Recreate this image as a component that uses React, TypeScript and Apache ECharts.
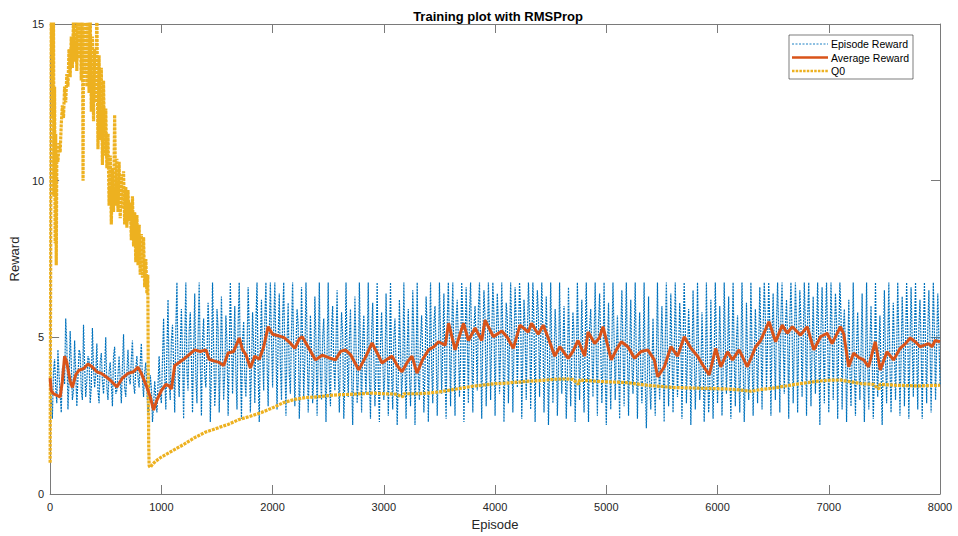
import React, { useEffect, useRef } from "react";
import * as echarts from "echarts";

const title = "Training plot with RMSProp";
const xTicks = [0, 1000, 2000, 3000, 4000, 5000, 6000, 7000, 8000];
const yTicks = [0, 5, 10, 15];
const seriesNames = ["Episode Reward", "Average Reward", "Q0"];

// Episode reward, one value every 20 episodes (0, 20, ..., 8000)
const episodeStep = 20;
const episodeReward = [
  3.6, 2.4, 4.3, 2.9, 3.8, 2.6, 4.1, 5.6, 2.7, 5.2, 3.0, 4.9, 2.8, 4.6, 3.3, 5.4, 3.1, 4.4, 2.9, 5.3,
  3.4, 4.8, 2.9, 4.5, 3.2, 5.0, 3.0, 4.2, 2.8, 4.7, 3.3, 4.4, 2.9, 5.1, 3.1, 4.6, 3.5, 4.9, 3.2, 4.4,
  3.4, 4.8, 3.1, 4.2, 2.5, 3.8, 2.3, 3.6, 2.6, 4.4, 2.9, 5.6, 2.7, 6.2, 3.0, 5.4, 2.6, 6.75, 3.1, 5.9,
  2.4, 6.75, 3.3, 5.8, 2.6, 6.4, 2.9, 6.75, 2.5, 5.6, 3.4, 6.1, 2.3, 6.75, 2.8, 5.9, 2.6, 6.3, 3.0, 5.7,
  2.5, 6.75, 3.2, 6.0, 2.7, 6.75, 2.4, 5.5, 3.1, 6.6, 2.6, 5.8, 2.9, 6.75, 2.3, 6.2, 3.3, 6.75, 2.8, 6.75,
  3.4, 6.75, 2.7, 6.4, 3.0, 6.75, 2.5, 6.1, 3.2, 6.75, 2.8, 5.9, 2.4, 6.6, 3.1, 6.75, 2.6, 5.7, 2.9, 6.3,
  2.5, 6.75, 3.0, 5.6, 2.3, 6.75, 2.8, 6.0, 3.3, 6.5, 2.6, 5.8, 2.4, 6.75, 3.1, 5.9, 2.2, 6.3, 2.9, 6.75,
  2.6, 5.7, 3.2, 6.75, 2.4, 6.1, 2.8, 6.75, 2.3, 5.8, 3.0, 6.4, 2.5, 6.75, 2.7, 5.6, 2.2, 6.2, 3.1, 6.75,
  2.4, 5.9, 2.8, 6.5, 2.2, 6.75, 3.0, 5.7, 2.6, 6.3, 2.3, 6.75, 2.9, 6.0, 2.5, 6.75, 3.2, 6.4, 2.4, 6.75,
  2.8, 6.75, 2.5, 6.2, 3.1, 6.75, 2.3, 6.6, 2.9, 6.75, 2.6, 6.0, 3.3, 6.75, 2.4, 6.5, 2.8, 6.75, 3.0, 6.75,
  2.5, 6.4, 3.2, 6.75, 2.3, 6.1, 2.9, 6.75, 2.6, 6.6, 3.4, 6.75, 2.4, 6.2, 3.0, 6.75, 2.7, 6.75, 2.3, 6.5,
  3.1, 6.75, 2.6, 6.3, 2.2, 6.75, 2.9, 5.9, 2.5, 6.75, 3.2, 6.0, 2.4, 6.6, 2.8, 5.8, 2.3, 6.75, 3.0, 6.2,
  2.6, 6.75, 2.3, 5.9, 3.1, 6.75, 2.5, 6.4, 2.9, 6.75, 2.2, 6.1, 2.7, 6.75, 3.0, 5.7, 2.4, 6.5, 2.8, 6.75,
  2.5, 6.2, 3.2, 6.75, 2.4, 5.8, 2.9, 6.75, 2.1, 6.3, 2.7, 5.6, 2.5, 6.75, 3.0, 6.0, 2.3, 6.75, 2.8, 6.4,
  2.6, 6.75, 3.1, 6.1, 2.4, 6.75, 2.9, 5.9, 2.2, 6.5, 2.7, 6.75, 3.0, 5.8, 2.3, 6.75, 2.6, 6.2, 2.4, 6.75,
  2.9, 6.0, 2.5, 6.75, 3.2, 6.3, 2.4, 6.75, 2.8, 5.7, 2.6, 6.75, 2.3, 6.1, 3.0, 6.75, 2.5, 5.9, 2.9, 6.6,
  2.7, 6.75, 3.3, 6.75, 2.5, 6.4, 3.0, 6.75, 2.6, 6.75, 3.2, 6.2, 2.4, 6.75, 2.9, 6.75, 2.6, 6.5, 3.1, 6.75,
  2.5, 6.75, 2.8, 6.3, 3.2, 6.75, 2.2, 6.6, 2.9, 6.75, 2.6, 6.75, 3.0, 6.4, 2.4, 6.75, 2.7, 5.9, 2.3, 6.2,
  2.8, 6.75, 2.5, 5.8, 3.0, 6.4, 2.3, 6.75, 2.7, 6.0, 2.4, 6.75, 3.1, 5.7, 2.2, 6.5, 2.9, 6.75, 2.6, 6.1,
  3.0, 6.75, 2.5, 6.3, 2.8, 6.75, 2.4, 6.6, 3.1, 6.75, 2.7, 6.2, 2.4, 6.75, 2.9, 6.5, 2.6, 6.75, 3.0, 6.4,
  3.5,
];

// Episode reward at the in-between episodes (10, 30, ..., 7990)
const episodeRewardMid = [
  3.1, 3.9, 3.4, 4.6, 3.2, 4.0, 3.5, 4.8, 3.6, 4.2, 3.3, 3.9, 3.7, 4.5, 3.0, 4.1, 3.6, 4.3, 3.4, 4.0,
  3.8, 3.3, 4.2, 3.6, 4.0, 3.4, 3.9, 3.5, 4.4, 3.2, 3.8, 3.6, 4.1, 3.4, 3.9, 3.7, 4.3, 3.5, 4.0, 3.7,
  4.2, 3.6, 3.9, 3.3, 3.0, 3.4, 2.8, 3.1, 3.5, 3.2, 4.3, 3.8, 4.6, 3.5, 4.9, 4.1, 5.3, 3.9, 4.7, 4.4,
  4.8, 3.9, 5.2, 4.3, 4.6, 3.7, 5.0, 4.2, 4.9, 3.8, 4.4, 5.1, 4.0, 4.7, 3.6, 5.3, 4.1, 4.5, 3.9, 4.8,
  4.2, 5.0, 4.6, 3.8, 5.4, 4.3, 4.9, 3.7, 4.5, 5.2, 4.0, 4.7, 5.5, 3.9, 4.8, 4.4, 5.6, 4.2, 5.1, 4.9,
  5.3, 4.6, 5.0, 4.1, 5.6, 4.4, 4.9, 3.8, 5.2, 4.5, 4.7, 5.4, 3.9, 4.8, 4.3, 5.1, 4.0, 4.6, 3.7, 4.9,
  4.4, 3.8, 5.0, 4.2, 4.6, 3.6, 5.3, 4.1, 4.8, 3.9, 4.5, 5.1, 3.7, 4.4, 4.9, 3.8, 4.2, 4.7, 3.6, 4.5,
  4.9, 4.0, 4.6, 3.7, 5.2, 4.3, 4.1, 3.6, 4.8, 4.4, 3.9, 4.7, 4.2, 3.8, 5.0, 4.1, 3.7, 4.5, 3.9, 4.2,
  4.6, 3.8, 4.3, 5.0, 4.1, 3.7, 4.9, 4.4, 3.9, 5.2, 4.5, 4.0, 5.4, 4.6, 4.2, 5.1, 4.7, 3.9, 5.5, 4.8,
  5.2, 4.4, 5.6, 4.9, 4.3, 5.7, 4.6, 5.0, 5.8, 4.5, 5.3, 4.8, 5.9, 4.7, 5.1, 5.6, 4.4, 5.3, 5.0, 5.7,
  4.9, 5.4, 4.6, 5.1, 4.3, 5.6, 4.8, 5.2, 4.7, 5.5, 4.9, 5.8, 4.5, 5.3, 5.0, 5.6, 4.8, 5.4, 5.1, 5.7,
  4.9, 5.2, 4.4, 4.8, 4.1, 4.6, 4.3, 5.0, 3.9, 4.5, 4.7, 4.2, 3.8, 4.6, 4.4, 5.1, 4.0, 4.8, 4.5, 4.3,
  4.9, 4.2, 5.3, 4.6, 5.0, 4.4, 5.5, 4.7, 4.1, 3.9, 4.5, 4.3, 4.8, 5.0, 4.6, 4.2, 5.1, 4.7, 4.9, 4.4,
  4.6, 4.1, 4.8, 4.3, 4.5, 3.9, 4.2, 3.6, 3.8, 3.5, 4.0, 3.7, 4.4, 4.1, 4.7, 4.3, 4.9, 4.5, 4.2, 4.6,
  4.3, 4.8, 4.5, 5.1, 4.7, 5.3, 4.4, 4.9, 4.2, 4.6, 4.0, 4.5, 3.8, 4.3, 3.6, 4.1, 3.5, 3.9, 4.4, 4.7,
  4.2, 4.6, 3.9, 4.8, 4.4, 4.1, 4.7, 4.3, 4.9, 4.0, 4.5, 4.2, 3.8, 4.4, 4.1, 4.6, 4.3, 4.8, 4.7, 5.0,
  5.3, 5.6, 4.9, 5.4, 5.1, 4.7, 5.5, 5.2, 5.7, 4.9, 5.3, 5.0, 5.6, 5.2, 4.8, 5.5, 5.1, 5.4, 4.9, 5.3,
  5.6, 5.0, 4.7, 4.4, 5.1, 4.8, 5.3, 4.9, 5.4, 5.0, 4.6, 5.2, 4.9, 5.5, 5.1, 5.7, 5.2, 4.6, 4.2, 4.0,
  4.4, 4.0, 4.7, 4.2, 4.5, 3.9, 4.3, 4.1, 4.8, 4.4, 3.8, 4.2, 4.6, 4.0, 4.5, 4.3, 4.8, 4.1, 4.4, 4.7,
  4.5, 4.9, 4.3, 5.0, 4.7, 5.2, 4.6, 4.9, 5.1, 4.5, 5.3, 4.8, 5.0, 4.6, 5.2, 4.9, 4.7, 5.1, 4.8, 5.0,
];

// Average reward: [episode, value]
const averageReward: [number, number][] = [
  [0, 3.7], [10, 3.3], [30, 3.2], [60, 3.15], [90, 3.1], [110, 3.6], [130, 4.4], [150, 4.2], [180, 3.6],
  [200, 3.4], [230, 3.8], [260, 3.95], [300, 4.0], [340, 4.15], [380, 4.05], [420, 3.9], [460, 3.85],
  [500, 3.75], [550, 3.6], [600, 3.42], [650, 3.7], [700, 3.85], [750, 3.9], [790, 4.05], [820, 3.85],
  [860, 3.5], [900, 3.1], [930, 2.68], [960, 3.0], [1000, 3.3], [1040, 3.5], [1070, 3.45], [1090, 3.35],
  [1120, 4.1], [1160, 4.2], [1200, 4.3], [1250, 4.45], [1300, 4.6], [1350, 4.55], [1400, 4.6], [1430, 4.3],
  [1470, 4.25], [1520, 4.2], [1560, 4.1], [1600, 4.5], [1650, 4.55], [1700, 4.98], [1730, 4.6], [1760, 4.45],
  [1800, 4.02], [1840, 4.4], [1880, 4.3], [1920, 4.7], [1960, 5.34], [2000, 5.1], [2050, 5.05], [2100, 5.0],
  [2150, 4.85], [2200, 4.65], [2240, 4.95], [2266, 5.02], [2326, 4.65], [2386, 4.28], [2445, 4.43],
  [2505, 4.35], [2565, 4.28], [2610, 4.55], [2655, 4.6], [2700, 4.45], [2775, 3.96], [2840, 4.4],
  [2894, 4.82], [2940, 4.5], [2984, 4.18], [3030, 4.3], [3074, 4.4], [3120, 4.1], [3163, 3.9], [3210, 4.2],
  [3253, 4.4], [3298, 3.86], [3350, 4.3], [3402, 4.6], [3450, 4.7], [3492, 4.86], [3552, 4.75], [3582, 5.45],
  [3641, 4.6], [3716, 5.45], [3761, 4.9], [3821, 5.3], [3880, 4.9], [3910, 5.55], [3985, 5.02], [4060, 5.2],
  [4110, 5.0], [4164, 4.65], [4224, 5.39], [4299, 5.17], [4328, 5.45], [4388, 5.1], [4433, 5.39],
  [4478, 4.98], [4537, 4.4], [4582, 4.7], [4657, 4.33], [4700, 4.55], [4746, 4.9], [4806, 4.4], [4836, 5.17],
  [4896, 4.8], [4940, 5.0], [4970, 5.34], [5045, 4.28], [5090, 4.6], [5135, 4.86], [5194, 4.7], [5254, 4.33],
  [5313, 4.55], [5373, 4.6], [5432, 4.28], [5462, 3.74], [5522, 4.06], [5581, 4.7], [5641, 4.4], [5701, 5.02],
  [5761, 4.65], [5820, 4.4], [5870, 4.1], [5925, 3.8], [5984, 4.65], [6029, 4.06], [6089, 4.54], [6134, 4.28],
  [6194, 4.6], [6268, 4.06], [6343, 4.7], [6388, 4.9], [6463, 5.5], [6522, 4.86], [6582, 5.39], [6627, 5.13],
  [6672, 5.34], [6746, 5.07], [6806, 5.34], [6866, 4.6], [6926, 5.02], [6985, 5.13], [7030, 4.8], [7105, 5.34],
  [7135, 5.1], [7179, 4.06], [7224, 4.5], [7270, 4.35], [7314, 4.28], [7358, 4.06], [7418, 4.86], [7463, 3.96],
  [7523, 4.54], [7582, 4.28], [7642, 4.65], [7690, 4.8], [7732, 4.98], [7780, 4.85], [7821, 4.7], [7860, 4.75],
  [7896, 4.8], [7930, 4.7], [7956, 4.9], [8000, 4.86],
];

// Q0 estimate: [episode, value]
const q0: [number, number][] = [
  [0, 1.0], [5, 7.5], [10, 15.5], [15, 14.0], [20, 16], [25, 12], [30, 15.5], [35, 9.5], [40, 13], [45, 8.0],
  [50, 11.5], [55, 7.3], [60, 10.8], [70, 10.6], [80, 11.2], [90, 10.9], [100, 11.8], [110, 12.4], [120, 12.0],
  [130, 13.0], [140, 12.5], [150, 13.4], [160, 13.0], [170, 14.2], [180, 13.3], [190, 14.6], [200, 13.6],
  [210, 15.2], [220, 13.8], [230, 15.5], [240, 13.5], [250, 15.5], [260, 13.9], [270, 15.3], [280, 13.2],
  [290, 15.5], [296, 10.0], [300, 14.8], [310, 13.4], [320, 15.5], [330, 13.0], [340, 15.3], [350, 12.8],
  [360, 15.5], [370, 12.2], [380, 14.6], [390, 11.9], [400, 14.2], [410, 12.5], [420, 15.5], [430, 11.0],
  [440, 14.0], [450, 11.3], [460, 13.6], [470, 10.5], [480, 13.2], [490, 10.8], [500, 12.3], [510, 10.4],
  [520, 11.5], [530, 9.2], [540, 10.8], [550, 8.6], [560, 10.4], [570, 9.0], [580, 12.1], [590, 9.2],
  [600, 10.7], [610, 9.0], [620, 10.6], [630, 8.8], [640, 10.2], [650, 9.1], [660, 10.3], [670, 8.6],
  [680, 9.8], [690, 8.5], [700, 9.7], [710, 8.7], [720, 9.3], [730, 8.1], [740, 9.5], [750, 7.9], [760, 9.0],
  [770, 7.4], [780, 8.9], [790, 7.3], [800, 8.6], [810, 7.0], [820, 8.3], [830, 6.9], [840, 8.2], [850, 6.6],
  [860, 7.5], [870, 6.4], [878, 7.0], [882, 4.0], [886, 1.6], [890, 0.9], [900, 0.85], [920, 0.95],
  [950, 1.05], [1000, 1.18], [1100, 1.38], [1200, 1.58], [1300, 1.8], [1400, 1.98], [1500, 2.1], [1600, 2.22],
  [1700, 2.38], [1800, 2.48], [1900, 2.6], [2000, 2.75], [2100, 2.92], [2200, 3.02], [2300, 3.08], [2400, 3.1],
  [2500, 3.14], [2600, 3.17], [2700, 3.18], [2800, 3.2], [2900, 3.22], [3000, 3.2], [3100, 3.19], [3170, 3.1],
  [3180, 3.2], [3300, 3.2], [3400, 3.22], [3500, 3.26], [3600, 3.32], [3700, 3.38], [3800, 3.44], [3900, 3.48],
  [4000, 3.52], [4100, 3.54], [4200, 3.57], [4300, 3.6], [4400, 3.62], [4500, 3.65], [4600, 3.67], [4700, 3.66],
  [4750, 3.5], [4760, 3.64], [4900, 3.6], [5000, 3.58], [5100, 3.57], [5200, 3.55], [5300, 3.5], [5400, 3.46],
  [5500, 3.43], [5600, 3.4], [5700, 3.39], [5800, 3.38], [5900, 3.37], [6000, 3.36], [6100, 3.35], [6200, 3.32],
  [6300, 3.28], [6400, 3.34], [6500, 3.38], [6600, 3.44], [6700, 3.5], [6800, 3.55], [6900, 3.6], [7000, 3.63],
  [7100, 3.64], [7200, 3.58], [7300, 3.52], [7400, 3.5], [7450, 3.35], [7460, 3.5], [7600, 3.47], [7700, 3.46],
  [7800, 3.45], [7900, 3.46], [8000, 3.47],
];

const FONT = "'Liberation Sans', Arial, Helvetica, sans-serif";
const LABEL = "#262626";
const FRAME = "#7a7a7a";
const BLUE = "#0072BD";
const ORANGE = "#D95319";
const YELLOW = "#EDB120";
const BLUE_DASH = [2, 1];
const YELLOW_DASH = [3, 1];

export default function App() {
  const ref = useRef<HTMLDivElement>(null);
  useEffect(() => {
    if (!ref.current) return;
    const chart = echarts.init(ref.current, undefined, { renderer: "svg" });
    const epData: [number, number][] = [];
    episodeReward.forEach((v, i) => {
      epData.push([i * episodeStep, v]);
      if (i < episodeRewardMid.length) epData.push([i * episodeStep + episodeStep / 2, episodeRewardMid[i]]);
    });
    const xMax = xTicks[xTicks.length - 1];
    const yMax = yTicks[yTicks.length - 1];
    const xInt = xTicks[1] - xTicks[0];
    const yInt = yTicks[1] - yTicks[0];
    const axisCommon = {
      axisLine: { show: true, onZero: false, lineStyle: { color: FRAME, width: 1 } },
      axisTick: { show: true, inside: true, length: 9, lineStyle: { color: FRAME } },
      splitLine: { show: false },
    };
    // legend box (drawn as graphic)
    const lx = 789, ly = 35, lw = 124, lh = 44;
    const rows = [44, 57.5, 71];
    const legendStyles = [
      { stroke: BLUE, lineWidth: 0.9, lineDash: [2, 1.5] },
      { stroke: ORANGE, lineWidth: 2.6 },
      { stroke: YELLOW, lineWidth: 2.6, lineDash: [2.5, 1.2] },
    ];
    const legendEls: any[] = [
      {
        type: "rect",
        shape: { x: lx, y: ly, width: lw, height: lh },
        style: { fill: "#ffffff", stroke: LABEL, lineWidth: 0.6 },
        z: 100,
      },
    ];
    seriesNames.forEach((name, i) => {
      legendEls.push({
        type: "line",
        shape: { x1: 792, y1: rows[i], x2: 828, y2: rows[i] },
        style: legendStyles[i],
        z: 101,
      });
      legendEls.push({
        type: "text",
        x: 831,
        y: rows[i],
        style: {
          text: name,
          fill: "#000",
          font: `10.5px ${FONT}`,
          verticalAlign: "middle",
          align: "left",
        },
        z: 101,
      });
    });
    chart.setOption({
      animation: false,
      backgroundColor: "#ffffff",
      textStyle: { fontFamily: FONT },
      title: {
        text: title,
        left: 493,
        textAlign: "center",
        top: 5,
        textStyle: { fontFamily: FONT, fontSize: 13, fontWeight: "bold", color: "#000" },
      },
      grid: { left: 47, right: 18, top: 24, bottom: 42, containLabel: false },
      xAxis: [
        {
          type: "value",
          min: 0,
          max: xMax,
          interval: xInt,
          position: "bottom",
          name: "Episode",
          nameLocation: "middle",
          nameGap: 24,
          nameTextStyle: { fontFamily: FONT, fontSize: 13, color: LABEL },
          axisLabel: { fontFamily: FONT, fontSize: 11, color: LABEL, margin: 7, formatter: (v: number) => String(v) },
          ...axisCommon,
        },
        {
          type: "value",
          min: 0,
          max: xMax,
          interval: xInt,
          position: "top",
          axisLabel: { show: false },
          ...axisCommon,
        },
      ],
      yAxis: [
        {
          type: "value",
          min: 0,
          max: yMax,
          interval: yInt,
          position: "left",
          name: "Reward",
          nameLocation: "middle",
          nameGap: 20,
          nameTextStyle: { fontFamily: FONT, fontSize: 13, color: LABEL },
          axisLabel: { fontFamily: FONT, fontSize: 11, color: LABEL, margin: 6, formatter: (v: number) => String(v) },
          ...axisCommon,
        },
        {
          type: "value",
          min: 0,
          max: yMax,
          interval: yInt,
          position: "right",
          axisLabel: { show: false },
          ...axisCommon,
        },
      ],
      graphic: legendEls,
      series: [
        {
          name: seriesNames[0],
          type: "line",
          data: epData,
          showSymbol: false,
          symbol: "none",
          clip: true,
          color: BLUE,
          lineStyle: { color: BLUE, width: 1.2, type: BLUE_DASH },
          z: 2,
        },
        {
          name: seriesNames[1],
          type: "line",
          data: averageReward,
          showSymbol: false,
          symbol: "none",
          clip: true,
          color: ORANGE,
          lineStyle: { color: ORANGE, width: 3 },
          z: 4,
        },
        {
          name: seriesNames[2],
          type: "line",
          data: q0,
          showSymbol: false,
          symbol: "none",
          clip: true,
          color: YELLOW,
          lineStyle: { color: YELLOW, width: 3.2, type: YELLOW_DASH },
          z: 3,
        },
      ],
    });
    return () => chart.dispose();
  }, []);
  return (
    <div
      ref={ref}
      style={{ position: "absolute", left: 0, top: 0, width: 958, height: 536 }}
    />
  );
}
